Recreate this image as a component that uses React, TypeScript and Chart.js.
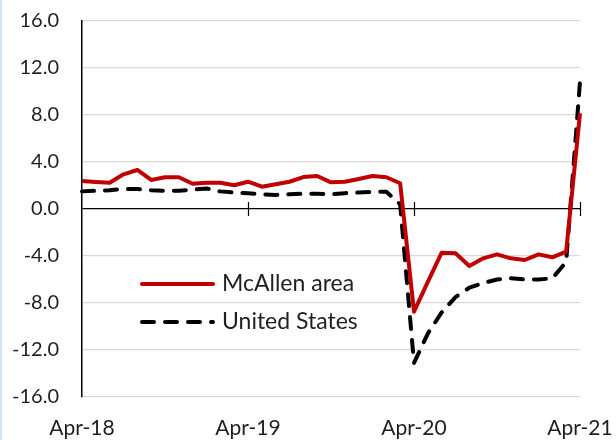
import React, { useEffect, useRef } from "react";
import { Chart, registerables } from "chart.js";

Chart.register(...registerables);

const months: string[] = [
  "Apr-18", "May-18", "Jun-18", "Jul-18", "Aug-18", "Sep-18", "Oct-18", "Nov-18", "Dec-18",
  "Jan-19", "Feb-19", "Mar-19", "Apr-19", "May-19", "Jun-19", "Jul-19", "Aug-19", "Sep-19",
  "Oct-19", "Nov-19", "Dec-19", "Jan-20", "Feb-20", "Mar-20", "Apr-20", "May-20", "Jun-20",
  "Jul-20", "Aug-20", "Sep-20", "Oct-20", "Nov-20", "Dec-20", "Jan-21", "Feb-21", "Mar-21", "Apr-21",
];

const tickMonths: string[] = ["Apr-18", "Apr-19", "Apr-20", "Apr-21"];

const mcallen: number[] = [
  2.38, 2.3, 2.24, 2.95, 3.32, 2.47, 2.7, 2.7, 2.15,
  2.24, 2.24, 2.02, 2.32, 1.9, 2.1, 2.32, 2.72, 2.81,
  2.27, 2.32, 2.55, 2.81, 2.7, 2.19, -8.74, -6.2, -3.72,
  -3.77, -4.85, -4.2, -3.86, -4.2, -4.34, -3.86, -4.11, -3.63, 8.14,
];

const unitedStates: number[] = [
  1.5, 1.55, 1.6, 1.7, 1.7, 1.6, 1.55, 1.55, 1.65,
  1.75, 1.5, 1.4, 1.35, 1.25, 1.2, 1.25, 1.3, 1.3,
  1.25, 1.35, 1.4, 1.45, 1.47, 0.4, -13.1, -10.6, -8.8,
  -7.5, -6.7, -6.3, -6.0, -5.9, -6.0, -6.0, -5.9, -4.5, 10.85,
];

const FONT = "Lato, 'Open Sans', sans-serif";
const TEXT_COLOR = "#1f1f1f";

const zeroTicksPlugin = {
  id: "zeroTicks",
  afterDatasetsDraw(chart: any) {
    const { ctx, scales } = chart;
    const x = scales.x;
    const y = scales.y;
    const y0 = y.getPixelForValue(0);
    ctx.save();
    ctx.strokeStyle = "#000";
    ctx.lineWidth = 1.2;
    months.forEach((m, i) => {
      if (i > 0 && tickMonths.includes(m)) {
        const px = Math.round(x.getPixelForValue(i)) + 0.5;
        ctx.beginPath();
        ctx.moveTo(px, y0 - 7);
        ctx.lineTo(px, y0 + 7);
        ctx.stroke();
      }
    });
    ctx.restore();
  },
};

const legendPlugin = {
  id: "innerLegend",
  afterDraw(chart: any) {
    const { ctx } = chart;
    const x1 = 142;
    const x2 = 213;
    const rows = [284, 322];
    ctx.save();
    chart.data.datasets.forEach((ds: any, i: number) => {
      const yy = rows[i];
      ctx.beginPath();
      ctx.strokeStyle = ds.borderColor;
      ctx.lineWidth = ds.borderWidth;
      ctx.lineCap = "round";
      ctx.setLineDash(ds.borderDash || []);
      ctx.moveTo(x1, yy);
      ctx.lineTo(x2, yy);
      ctx.stroke();
      ctx.setLineDash([]);
      ctx.fillStyle = TEXT_COLOR;
      ctx.font = `23px ${FONT}`;
      ctx.textBaseline = "middle";
      ctx.textAlign = "left";
      ctx.fillText(ds.label, 222, yy);
    });
    ctx.restore();
  },
};

export default function App() {
  const ref = useRef<HTMLCanvasElement | null>(null);

  useEffect(() => {
    if (!ref.current) return;
    const chart = new Chart(ref.current, {
      type: "line",
      data: {
        labels: months,
        datasets: [
          {
            label: "McAllen area",
            data: mcallen,
            borderColor: "#c00000",
            backgroundColor: "#c00000",
            borderWidth: 4,
            pointRadius: 0,
            tension: 0,
            borderJoinStyle: "round",
          },
          {
            label: "United States",
            data: unitedStates,
            borderColor: "#000000",
            backgroundColor: "#000000",
            borderWidth: 4,
            borderDash: [12, 11],
            borderCapStyle: "round",
            borderJoinStyle: "round",
            pointRadius: 0,
            tension: 0,
          },
        ],
      },
      options: {
        animation: false,
        responsive: false,
        maintainAspectRatio: false,
        layout: { padding: { left: 0, right: 36, top: 21, bottom: 0 } },
        plugins: {
          legend: { display: false },
          tooltip: { enabled: false },
        },
        scales: {
          x: {
            type: "category",
            offset: false,
            border: { display: false },
            grid: {
              drawTicks: false,
              color: (c: any) => (c.index === months.length - 1 ? "#cfcfcf" : "transparent"),
              lineWidth: 1.5,
            },
            ticks: {
              autoSkip: false,
              maxRotation: 0,
              minRotation: 0,
              padding: 19,
              color: TEXT_COLOR,
              font: { family: FONT, size: 21 },
              callback: (_v: any, i: number) => (tickMonths.includes(months[i]) ? months[i] : null),
            },
            afterFit: (s: any) => {
              s.height = 43;
              s.paddingLeft = 0;
              s.paddingRight = 0;
            },
          },
          y: {
            min: -16,
            max: 16,
            border: { display: true, color: "#000", width: 1.5 },
            grid: {
              drawTicks: false,
              color: (c: any) => (c.tick && c.tick.value === 0 ? "#000" : "#d9d9d9"),
              lineWidth: 1.2,
            },
            ticks: {
              stepSize: 4,
              padding: 23,
              color: TEXT_COLOR,
              font: { family: FONT, size: 20 },
              callback: (v: any) => Number(v).toFixed(1),
            },
            afterFit: (s: any) => {
              s.width = 82;
              s.paddingTop = 0;
              s.paddingBottom = 0;
            },
          },
        },
      },
      plugins: [zeroTicksPlugin, legendPlugin],
    } as any);
    return () => chart.destroy();
  }, []);

  return (
    <div
      style={{
        position: "absolute",
        left: 0,
        top: 0,
        width: 616,
        height: 440,
        background: "#fff",
        overflow: "hidden",
      }}
    >
      <div style={{ position: "absolute", left: 0, top: 0, width: 2, height: 440, background: "#d6e2f5" }} />
      <canvas ref={ref} width={616} height={440} style={{ display: "block" }} />
    </div>
  );
}
